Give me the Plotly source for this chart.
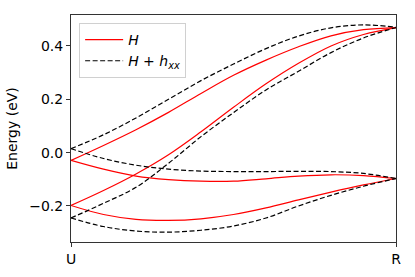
import plotly.graph_objects as go

k = [0.0, 0.1, 0.2, 0.3, 0.4, 0.5, 0.6, 0.7, 0.8, 0.9, 1.0]
tick_pos = [0.0, 1.0]
tick_text = ["U", "R"]

# H (red) bands
h_b1 = [-0.029, 0.027, 0.086, 0.151, 0.222, 0.290, 0.347, 0.397, 0.438, 0.461, 0.469]
h_b2 = [-0.198, -0.142, -0.080, -0.008, 0.078, 0.170, 0.258, 0.335, 0.400, 0.443, 0.469]
h_b3 = [-0.029, -0.062, -0.088, -0.101, -0.107, -0.107, -0.098, -0.088, -0.083, -0.086, -0.097]
h_b4 = [-0.198, -0.232, -0.250, -0.254, -0.248, -0.232, -0.207, -0.177, -0.148, -0.121, -0.097]

# H + h_xx (black dashed) bands
hx_b1 = [0.015, 0.067, 0.130, 0.200, 0.270, 0.332, 0.390, 0.437, 0.468, 0.479, 0.470]
hx_b2 = [-0.245, -0.190, -0.130, -0.040, 0.060, 0.150, 0.235, 0.305, 0.375, 0.430, 0.469]
hx_b3 = [0.015, -0.022, -0.047, -0.062, -0.069, -0.071, -0.071, -0.070, -0.071, -0.078, -0.097]
hx_b4 = [-0.245, -0.277, -0.294, -0.298, -0.291, -0.275, -0.245, -0.200, -0.160, -0.126, -0.097]

h_bands = [h_b1, h_b2, h_b3, h_b4]
hx_bands = [hx_b1, hx_b2, hx_b3, hx_b4]

fig = go.Figure()
for i, b in enumerate(h_bands):
    fig.add_trace(go.Scatter(
        x=k, y=b, mode="lines", line=dict(color="red", width=1.2, shape="spline"),
        name="<i>H</i>", legendgroup="h", showlegend=(i == 0)))
for i, b in enumerate(hx_bands):
    fig.add_trace(go.Scatter(
        x=k, y=b, mode="lines",
        line=dict(color="black", width=1.2, dash="5px,2.5px", shape="spline"),
        name="<i>H</i> + <i>h</i><sub><i>xx</i></sub>", legendgroup="hx", showlegend=(i == 0)))

yr = [-0.335, 0.516]
fig.update_layout(
    width=415, height=277,
    margin=dict(l=71, r=19, t=15, b=35, autoexpand=False),
    paper_bgcolor="white", plot_bgcolor="white",
    font=dict(family="DejaVu Sans", size=14, color="black"),
    showlegend=True,
    legend=dict(x=0.025, y=0.965, xanchor="left", yanchor="top",
                bgcolor="white", bordercolor="#d0d0d0", borderwidth=1,
                font=dict(size=14), tracegroupgap=0, itemwidth=38),
    xaxis=dict(range=[0, 1], tickvals=tick_pos, ticktext=tick_text, automargin=False,
               showgrid=False, zeroline=False, showline=True, mirror=True,
               linecolor="#333", linewidth=1, ticks="outside", ticklen=4,
               tickcolor="#333"),
    yaxis=dict(range=yr, tickvals=[-0.2, 0.0, 0.2, 0.4], tickformat=".1f", automargin=False,
               showgrid=False, zeroline=False, showline=True, mirror=True,
               linecolor="#333", linewidth=1, ticks="outside", ticklen=4,
               tickcolor="#333",
               title=dict(text="Energy (eV)", standoff=8, font=dict(size=14))),
    yaxis2=dict(range=yr, overlaying="y", side="right", tickvals=[-0.2, 0.0, 0.2, 0.4],
                showticklabels=False, showgrid=False, zeroline=False, automargin=False,
                ticks="inside", ticklen=4, tickcolor="#333", showline=False),
)
fig.write_html("out.html", config={"displayModeBar": False},
               post_script="document.body.style.margin='0';document.body.style.padding='0';")
